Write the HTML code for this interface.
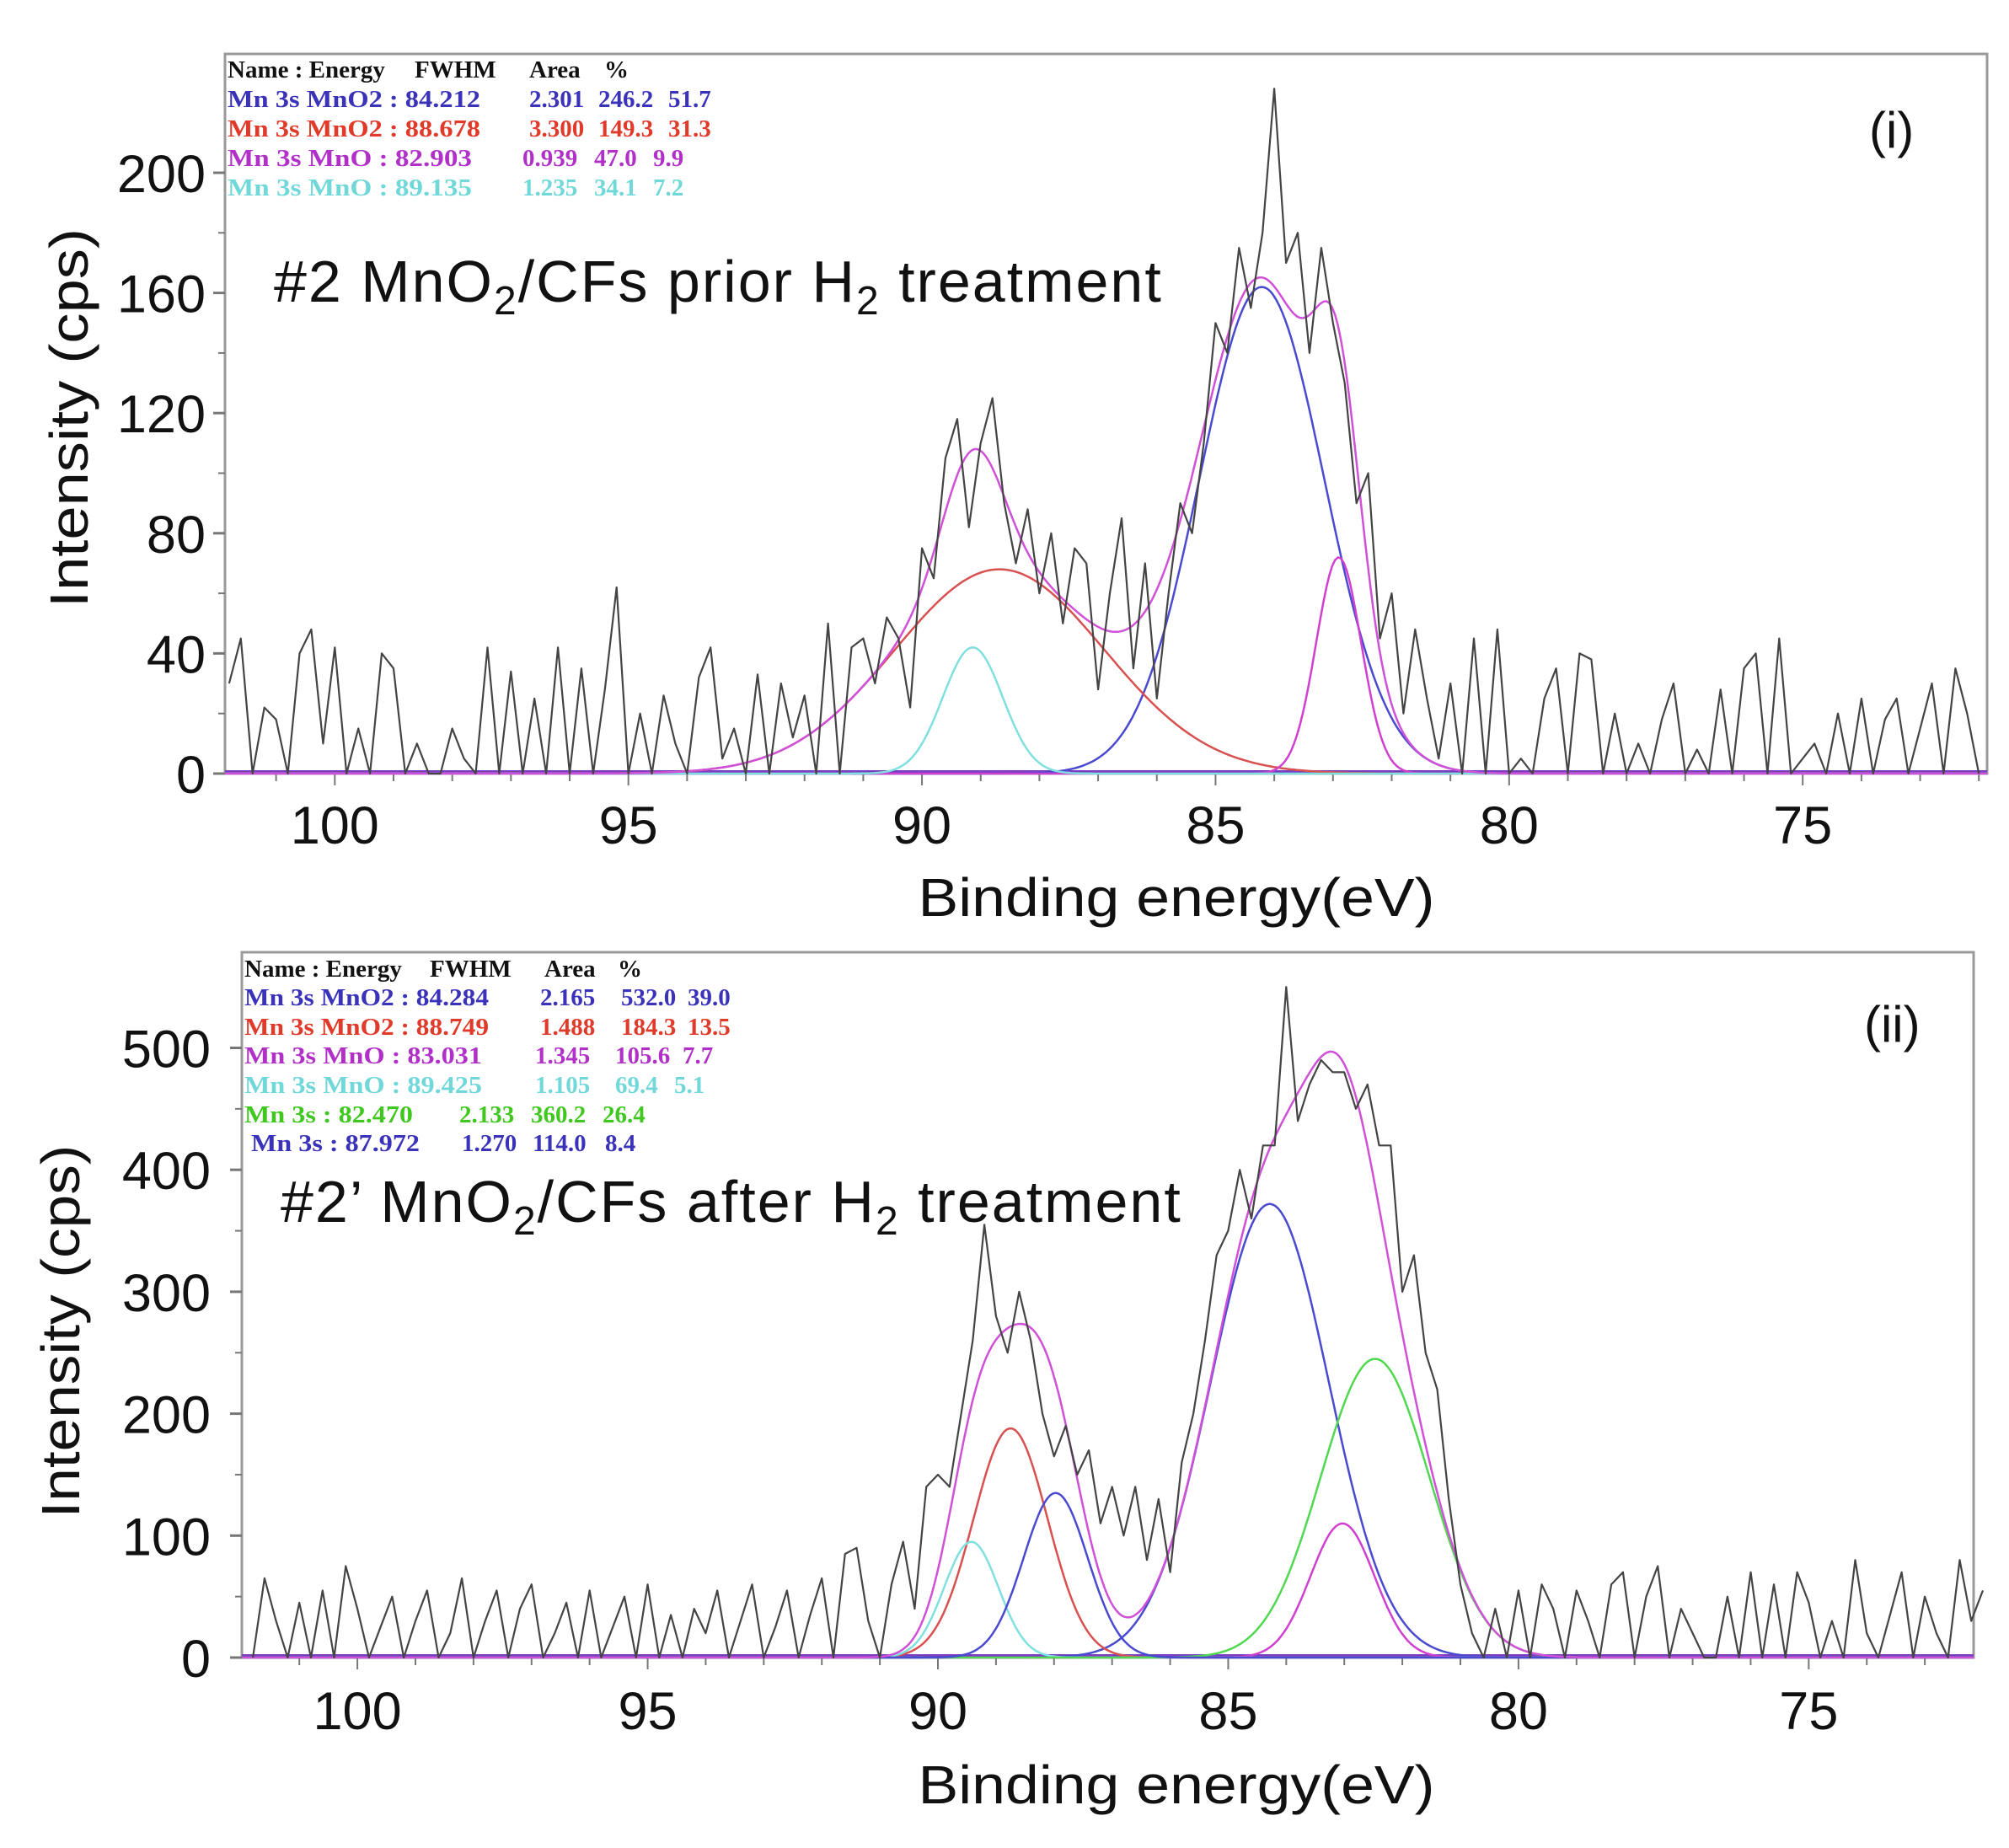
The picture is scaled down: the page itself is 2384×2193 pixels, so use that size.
<!DOCTYPE html>
<html><head><meta charset="utf-8"><style>
html,body{margin:0;padding:0;background:#fff;}
svg{display:block;}
.tk{font-family:"Liberation Sans",sans-serif;font-size:63px;fill:#111;}
.ttl{font-family:"Liberation Sans",sans-serif;font-size:64px;fill:#111;}
.ann{font-family:"Liberation Sans",sans-serif;font-size:70px;fill:#111;letter-spacing:2px;}
.lg{font-family:"Liberation Serif",serif;font-size:29px;font-weight:bold;}
</style></head><body>
<svg id="fig" width="2384" height="2193" viewBox="0 0 2384 2193" xmlns="http://www.w3.org/2000/svg">
<g id="p1"></g>
<g id="p2"></g>
<g class="lg">
  <text x="270" y="92" fill="#111">Name : Energy<tspan x="492">FWHM</tspan><tspan x="628">Area</tspan><tspan x="717">%</tspan></text>
  <text x="270" y="127" fill="#3a32b8"><tspan textLength="300" lengthAdjust="spacingAndGlyphs">Mn 3s MnO2 : 84.212</tspan><tspan x="628">2.301</tspan><tspan x="710">246.2</tspan><tspan x="793">51.7</tspan></text>
  <text x="270" y="162" fill="#e03a2a"><tspan textLength="300" lengthAdjust="spacingAndGlyphs">Mn 3s MnO2 : 88.678</tspan><tspan x="628">3.300</tspan><tspan x="710">149.3</tspan><tspan x="793">31.3</tspan></text>
  <text x="270" y="197" fill="#b030c8"><tspan textLength="290" lengthAdjust="spacingAndGlyphs">Mn 3s MnO : 82.903</tspan><tspan x="620">0.939</tspan><tspan x="705">47.0</tspan><tspan x="775">9.9</tspan></text>
  <text x="270" y="232" fill="#70d8d8"><tspan textLength="290" lengthAdjust="spacingAndGlyphs">Mn 3s MnO : 89.135</tspan><tspan x="620">1.235</tspan><tspan x="705">34.1</tspan><tspan x="775">7.2</tspan></text>
</g>
<g class="lg">
  <text x="290" y="1159" fill="#111">Name : Energy<tspan x="510">FWHM</tspan><tspan x="646">Area</tspan><tspan x="733">%</tspan></text>
  <text x="290" y="1193" fill="#3a32b8"><tspan textLength="290" lengthAdjust="spacingAndGlyphs">Mn 3s MnO2 : 84.284</tspan><tspan x="641">2.165</tspan><tspan x="737">532.0</tspan><tspan x="816">39.0</tspan></text>
  <text x="290" y="1228" fill="#e03a2a"><tspan textLength="290" lengthAdjust="spacingAndGlyphs">Mn 3s MnO2 : 88.749</tspan><tspan x="641">1.488</tspan><tspan x="737">184.3</tspan><tspan x="816">13.5</tspan></text>
  <text x="290" y="1262" fill="#b030c8"><tspan textLength="282" lengthAdjust="spacingAndGlyphs">Mn 3s MnO : 83.031</tspan><tspan x="635">1.345</tspan><tspan x="730">105.6</tspan><tspan x="810">7.7</tspan></text>
  <text x="290" y="1297" fill="#70d8d8"><tspan textLength="282" lengthAdjust="spacingAndGlyphs">Mn 3s MnO : 89.425</tspan><tspan x="635">1.105</tspan><tspan x="730">69.4</tspan><tspan x="800">5.1</tspan></text>
  <text x="290" y="1332" fill="#40c820"><tspan textLength="200" lengthAdjust="spacingAndGlyphs">Mn 3s : 82.470</tspan><tspan x="545">2.133</tspan><tspan x="630">360.2</tspan><tspan x="715">26.4</tspan></text>
  <text x="298" y="1366" fill="#3a32b8"><tspan textLength="200" lengthAdjust="spacingAndGlyphs">Mn 3s : 87.972</tspan><tspan x="548">1.270</tspan><tspan x="632">114.0</tspan><tspan x="718">8.4</tspan></text>
</g>
<text x="325" y="358" class="ann">#2 MnO<tspan dy="15" style="font-size:48px">2</tspan><tspan dy="-15">/CFs prior H</tspan><tspan dy="15" style="font-size:48px">2</tspan><tspan dy="-15"> treatment</tspan></text>
<text x="2218" y="175" class="ttl" style="font-size:60px">(i)</text>
<text x="333" y="1450" class="ann">#2’ MnO<tspan dy="15" style="font-size:48px">2</tspan><tspan dy="-15">/CFs after H</tspan><tspan dy="15" style="font-size:48px">2</tspan><tspan dy="-15"> treatment</tspan></text>
<text x="2212" y="1236" class="ttl" style="font-size:60px">(ii)</text>
</svg>
<script>
// ---- Panel (i) data: binding energy grid 101.8 -> 72.0, step 0.2 eV ----
const p1Start = 101.8;
const p1Step = 0.2;
const p1Counts = [
30,45,0,22,18,0,40,48,10,42,
0,15,0,40,35,0,10,0,0,15,
5,0,42,0,34,0,25,0,42,0,
35,0,28,62,0,20,0,26,10,0,
32,42,5,15,0,33,0,30,12,26,
0,50,0,42,45,30,52,45,22,75,
65,105,118,82,110,125,90,70,88,60,
80,50,75,70,28,60,85,35,70,25,
60,90,80,110,150,140,175,155,180,228,
170,180,140,175,150,130,90,100,45,60,
20,48,25,5,30,0,45,0,48,0,
5,0,25,35,0,40,38,0,20,0,
10,0,18,30,0,8,0,28,0,35,
40,0,45,0,5,10,0,20,0,25,
0,18,25,0,15,30,0,35,20,0];
const p1Centers = [84.212, 88.678, 82.903, 89.135];
const p1Fwhm = [2.5, 4.2, 0.9, 1.2];
const p1Heights = [162, 68, 72, 42];
const p1Colors = ["#4a4ad0", "#d85050", "#d040d0", "#80e0e0"];
const p1YTicks = [0, 40, 80, 120, 160, 200];
const p1XTicks = [100, 95, 90, 85, 80, 75];

// ---- Panel (ii) data ----
const p2Start = 101.8;
const p2Step = 0.2;
const p2Counts = [
0,65,30,0,45,0,55,0,75,40,
0,25,50,0,30,55,0,20,65,0,
30,55,0,40,60,0,20,45,0,55,
0,25,50,0,60,0,35,0,40,20,
55,0,30,60,0,25,55,0,35,65,
0,85,90,30,0,60,95,40,140,150,
140,200,260,355,280,250,300,260,200,165,
190,150,170,110,140,100,140,80,130,70,
160,200,260,330,350,400,360,420,420,550,
440,470,490,480,480,450,470,420,420,300,
330,250,220,130,60,20,0,40,0,55,
0,60,40,0,55,30,0,60,70,0,
50,75,0,40,20,0,0,50,0,70,
0,60,0,70,45,0,30,0,80,20,
0,35,70,0,50,20,0,80,30,55];
const p2Centers = [84.284, 88.749, 83.031, 89.425, 82.470, 87.972];
const p2Fwhm = [2.4, 1.5, 1.3, 1.1, 2.2, 1.3];
const p2Heights = [372, 188, 110, 95, 245, 135];
const p2Colors = ["#4a4ad0", "#d85050", "#d040d0", "#80e0e0", "#50d850", "#4a4ad0"];
const p2YTicks = [0, 100, 200, 300, 400, 500];
const p2XTicks = [100, 95, 90, 85, 80, 75];

const NS = "http://www.w3.org/2000/svg";
function mk(parent, tag, attrs, text) {
  const e = document.createElementNS(NS, tag);
  for (const k in attrs) e.setAttribute(k, attrs[k]);
  if (text !== undefined) e.textContent = text;
  parent.appendChild(e);
  return e;
}

function drawPanel(g, cfg) {
  const xS = v => cfg.left + (cfg.xMax - v) / (cfg.xMax - cfg.xMin) * (cfg.right - cfg.left);
  const yS = v => cfg.y0 - v * cfg.pxPerUnit;
  const fr = mk(g, "rect", {x: cfg.left, y: cfg.top, width: cfg.right - cfg.left, height: cfg.y0 - cfg.top, fill: "none", stroke: "#9a9a9a", "stroke-width": 3});
  
  
  for (let i = 0; i < cfg.yTicks.length; i++) {
    const v = cfg.yTicks[i];
    const t = mk(g, "line", {x1: cfg.left - 14, x2: cfg.left, y1: yS(v), y2: yS(v), stroke: "#777", "stroke-width": 3});
    
    
    if (i < cfg.yTicks.length - 1) {
      const mv = (v + cfg.yTicks[i + 1]) / 2;
      const m = mk(g, "line", {x1: cfg.left - 8, x2: cfg.left, y1: yS(mv), y2: yS(mv), stroke: "#777", "stroke-width": 2});
      
      
    }
    const l = mk(g, "text", {x: cfg.yLabelX, y: yS(v) + 23, "text-anchor": "end", class: "tk"}, String(v));
    
    
  }
  for (let e = Math.ceil(cfg.xMin); e <= Math.floor(cfg.xMax); e++) {
    const major = e % 5 === 0;
    const t = mk(g, "line", {x1: xS(e), x2: xS(e), y1: cfg.y0, y2: cfg.y0 + (major ? 14 : 9), stroke: "#777", "stroke-width": 2});
    
    
  }
  for (const v of cfg.xTicks) {
    const l = mk(g, "text", {x: xS(v), y: cfg.xLabelY, "text-anchor": "middle", class: "tk"}, String(v));
    
    
  }
  const bl = mk(g, "line", {x1: cfg.left, x2: cfg.right, y1: cfg.y0 - 2, y2: cfg.y0 - 2, stroke: "#7a3fc0", "stroke-width": 4});
  
  
  const gauss = (x, c, f, h) => { const s = f / 2.3548; return h * Math.exp(-(x - c) * (x - c) / (2 * s * s)); };
  const N = 600;
  let env = "";
  for (let k = 0; k < cfg.centers.length; k++) {
    let d = "";
    for (let j = 0; j <= N; j++) {
      const x = cfg.xMax - (cfg.xMax - cfg.xMin) * j / N;
      const y = gauss(x, cfg.centers[k], cfg.fwhm[k], cfg.heights[k]);
      d += (j ? "L" : "M") + xS(x).toFixed(1) + "," + yS(y).toFixed(1);
    }
    const p = mk(g, "path", {d: d, fill: "none", stroke: cfg.colors[k], "stroke-width": 2.5});
    
    
  }
  for (let j = 0; j <= N; j++) {
    const x = cfg.xMax - (cfg.xMax - cfg.xMin) * j / N;
    let y = 0;
    for (let k = 0; k < cfg.centers.length; k++) y += gauss(x, cfg.centers[k], cfg.fwhm[k], cfg.heights[k]);
    env += (j ? "L" : "M") + xS(x).toFixed(1) + "," + yS(y).toFixed(1);
  }
  const ep = mk(g, "path", {d: env, fill: "none", stroke: "#d050d8", "stroke-width": 2.5});
  
  
  let d = "";
  for (let i = 0; i < cfg.counts.length; i++) {
    const x = cfg.start - i * cfg.step;
    d += (i ? "L" : "M") + xS(x).toFixed(1) + "," + yS(cfg.counts[i]).toFixed(1);
  }
  const sp = mk(g, "path", {d: d, fill: "none", stroke: "#444", "stroke-width": 2.2, "stroke-linejoin": "round"});
  
  
  const yt = mk(g, "text", {x: 0, y: 0, class: "ttl", "text-anchor": "middle", transform: "translate(" + cfg.yTitle[0] + "," + cfg.yTitle[1] + ") rotate(-90)", textLength: cfg.yTitle[2], lengthAdjust: "spacingAndGlyphs"}, "Intensity (cps)");
  
  
  const xt = mk(g, "text", {x: cfg.xTitle[0], y: cfg.xTitle[1], class: "ttl", "text-anchor": "middle", textLength: 613, lengthAdjust: "spacingAndGlyphs"}, "Binding energy(eV)");
  
  
}

const p1 = document.getElementById("p1");
drawPanel(p1, {left: 267, right: 2358, top: 64, y0: 918, pxPerUnit: 3.565, xMax: 101.87, xMin: 71.86,
  counts: p1Counts, start: p1Start, step: p1Step, centers: p1Centers, fwhm: p1Fwhm, heights: p1Heights, colors: p1Colors,
  yTicks: p1YTicks, xTicks: p1XTicks, yLabelX: 244, xLabelY: 1001, yTitle: [104, 496, 450], xTitle: [1396, 1087]});
const p2 = document.getElementById("p2");
drawPanel(p2, {left: 287, right: 2342, top: 1130, y0: 1967, pxPerUnit: 1.447, xMax: 101.99, xMin: 72.16,
  counts: p2Counts, start: p2Start, step: p2Step, centers: p2Centers, fwhm: p2Fwhm, heights: p2Heights, colors: p2Colors,
  yTicks: p2YTicks, xTicks: p2XTicks, yLabelX: 250, xLabelY: 2052, yTitle: [94, 1580, 443], xTitle: [1396, 2140]});
</script>
</body></html>
